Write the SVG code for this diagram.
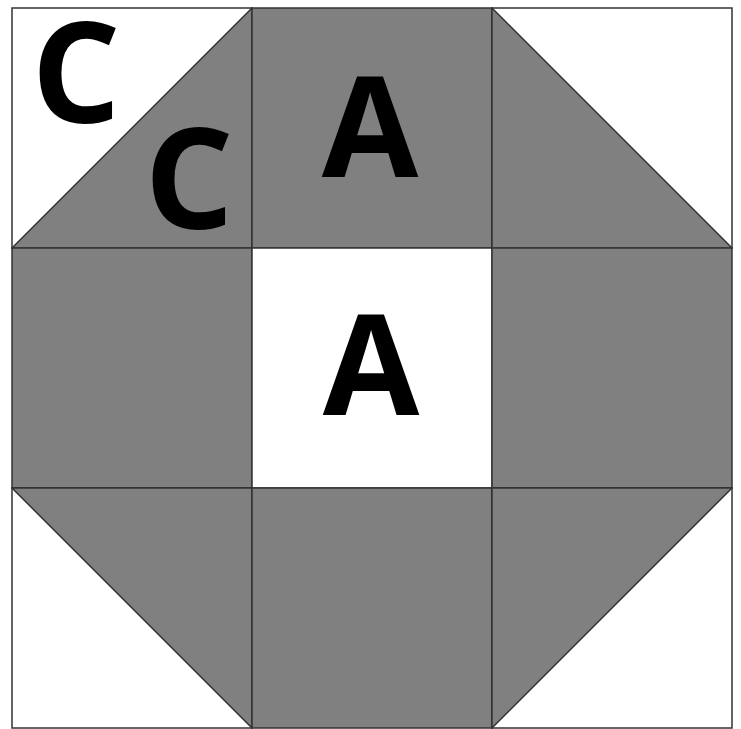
<svg xmlns="http://www.w3.org/2000/svg" width="741" height="729" viewBox="0 0 741 729">
<style>
.w{fill:#ffffff;stroke:#333333;stroke-width:1.5}
.g{fill:#808080;stroke:#333333;stroke-width:1.5;stroke-linejoin:round}
.t{font-family:"Open Sans","Liberation Sans",sans-serif;font-weight:700;font-size:140px;fill:#000000;text-anchor:middle}
</style>
<rect x="0" y="0" width="741" height="729" fill="#ffffff"/>
<g id="cell-top-left">
<rect class="w" x="12" y="8" width="240" height="240"/>
<polygon class="g" points="252,8 252,248 12,248"/>
<text class="t" x="76" y="123">C</text>
<text class="t" x="189" y="229">C</text>
</g>
<g id="cell-top-middle">
<rect class="g" x="252" y="8" width="240" height="240"/>
<text class="t" x="370" y="177">A</text>
</g>
<g id="cell-top-right">
<rect class="w" x="492" y="8" width="240" height="240"/>
<polygon class="g" points="492,8 732,248 492,248"/>
</g>
<g id="cell-middle-left">
<rect class="g" x="12" y="248" width="240" height="240"/>
</g>
<g id="cell-center">
<rect class="w" x="252" y="248" width="240" height="240"/>
<text class="t" x="371" y="415">A</text>
</g>
<g id="cell-middle-right">
<rect class="g" x="492" y="248" width="240" height="240"/>
</g>
<g id="cell-bottom-left">
<rect class="w" x="12" y="488" width="240" height="240"/>
<polygon class="g" points="12,488 252,488 252,728"/>
</g>
<g id="cell-bottom-middle">
<rect class="g" x="252" y="488" width="240" height="240"/>
</g>
<g id="cell-bottom-right">
<rect class="w" x="492" y="488" width="240" height="240"/>
<polygon class="g" points="492,488 732,488 492,728"/>
</g>
<g id="connectors"></g>
</svg>
